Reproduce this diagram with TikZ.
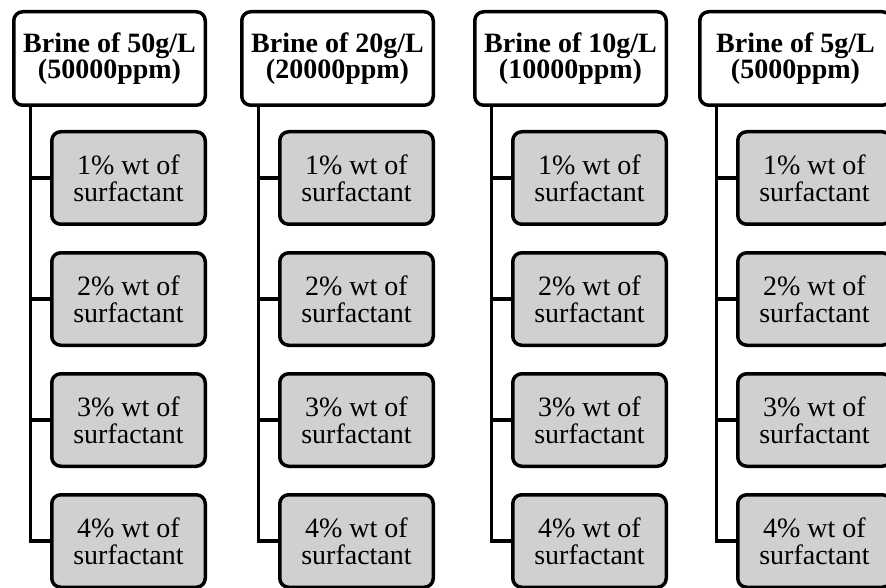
\documentclass[tikz,border=0pt]{standalone}
\usepackage{fontspec}
\setmainfont{Liberation Serif}

\definecolor{boxgray}{RGB}{208,208,208}

\tikzset{
  brine/.style={draw, line width=3.5pt, rounded corners=9pt, fill=white,
    minimum width=191.5pt, minimum height=93.5pt, inner sep=0pt, align=center,
    font=\fontsize{28}{26}\selectfont\bfseries},
  dose/.style={draw, line width=3.5pt, rounded corners=9pt, fill=boxgray,
    minimum width=153.5pt, minimum height=92.5pt, inner sep=0pt, align=center,
    font=\fontsize{28}{27}\selectfont},
  trunk/.style={line width=3.5pt}
}

\begin{document}
\begin{tikzpicture}[x=1pt, y=1pt]
    \path[use as bounding box, clip] (0,0) rectangle (886,-588);

    % Brine 50 g/L
    \node[brine] (brine50) at (109.5,-58.5) {Brine of 50g/L\\(50000ppm)};
    \coordinate (trunk50) at ([xshift=18.25pt]brine50.south west);
    \foreach \p/\y in {1/-178, 2/-299, 3/-420, 4/-541}
        \node[dose] (dose50-\p) at (128.5,\y) {\p\% wt of\\surfactant};
    \draw[trunk] (trunk50) |- (dose50-4.west);
    \foreach \p in {1,2,3}
        \draw[trunk] (dose50-\p.west) -- (dose50-\p.west -| trunk50);

    % Brine 20 g/L
    \node[brine] (brine20) at (337.5,-58.5) {Brine of 20g/L\\(20000ppm)};
    \coordinate (trunk20) at ([xshift=18.25pt]brine20.south west);
    \foreach \p/\y in {1/-178, 2/-299, 3/-420, 4/-541}
        \node[dose] (dose20-\p) at (356.5,\y) {\p\% wt of\\surfactant};
    \draw[trunk] (trunk20) |- (dose20-4.west);
    \foreach \p in {1,2,3}
        \draw[trunk] (dose20-\p.west) -- (dose20-\p.west -| trunk20);

    % Brine 10 g/L
    \node[brine] (brine10) at (570.5,-58.5) {Brine of 10g/L\\(10000ppm)};
    \coordinate (trunk10) at ([xshift=18.25pt]brine10.south west);
    \foreach \p/\y in {1/-178, 2/-299, 3/-420, 4/-541}
        \node[dose] (dose10-\p) at (589.5,\y) {\p\% wt of\\surfactant};
    \draw[trunk] (trunk10) |- (dose10-4.west);
    \foreach \p in {1,2,3}
        \draw[trunk] (dose10-\p.west) -- (dose10-\p.west -| trunk10);

    % Brine 5 g/L (runs off the right edge)
    \node[brine] (brine5) at (795.5,-58.5) {Brine of 5g/L\\(5000ppm)};
    \coordinate (trunk5) at ([xshift=18.25pt]brine5.south west);
    \foreach \p/\y in {1/-178, 2/-299, 3/-420, 4/-541}
        \node[dose] (dose5-\p) at (814.5,\y) {\p\% wt of\\surfactant};
    \draw[trunk] (trunk5) |- (dose5-4.west);
    \foreach \p in {1,2,3}
        \draw[trunk] (dose5-\p.west) -- (dose5-\p.west -| trunk5);
\end{tikzpicture}
\end{document}
